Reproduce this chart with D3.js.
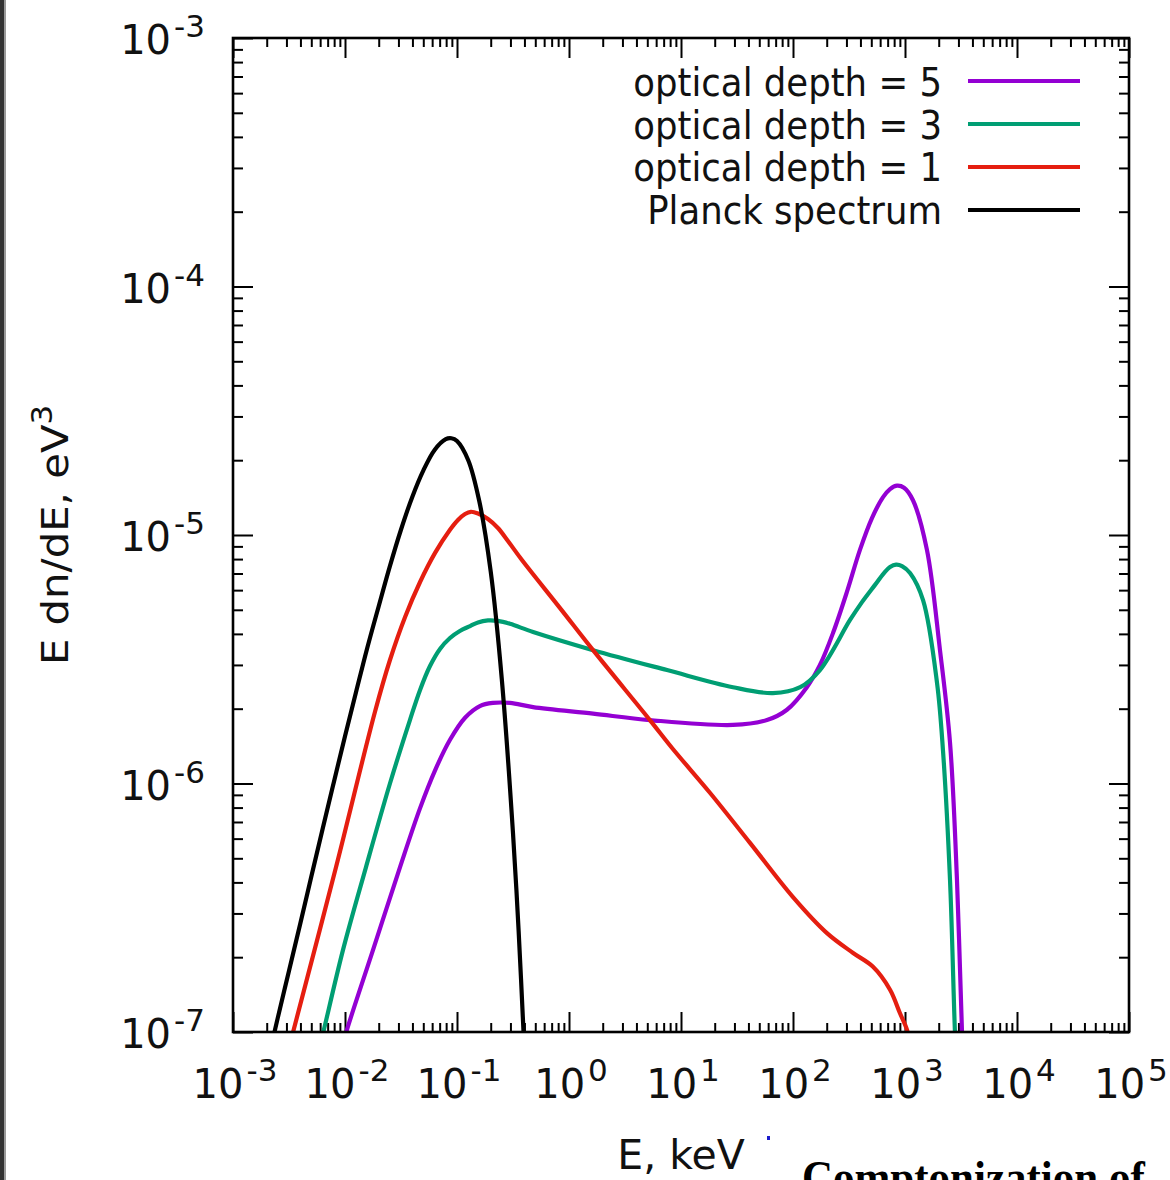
<!DOCTYPE html>
<html><head><meta charset="utf-8">
<script src="https://cdn.jsdelivr.net/npm/d3@7"></script>
<style>body{margin:0;background:#fff}svg{display:block}</style>
</head><body><svg id="c" width="1170" height="1180"></svg>
<script>
// ---- data ----
const xTickExps = [-3, -2, -1, 0, 1, 2, 3, 4, 5];
const yTickExps = [-7, -6, -5, -4, -3];
const seriesNames = ["optical depth = 5", "optical depth = 3", "optical depth = 1", "Planck spectrum"];
const seriesColors = ["#9400d3", "#009e73", "#e51e10", "#000000"];

const tau5E = [9.60e-3, 1.02e-2, 1.78e-2, 3.10e-2, 4.68e-2, 6.37e-2, 8.66e-2, 0.118, 0.160, 0.209, 0.297, 0.478, 1.64, 5.28, 29.1, 58.6, 88.3, 133, 174, 228, 303, 396, 507, 637, 735, 849, 980, 1178, 1570, 2053, 2523, 2911, 3228, 3296];
const tau5Y = [8.87e-8, 9.9e-8, 2.14e-7, 4.61e-7, 7.96e-7, 1.13e-6, 1.50e-6, 1.84e-6, 2.05e-6, 2.11e-6, 2.11e-6, 2.03e-6, 1.91e-6, 1.80e-6, 1.72e-6, 1.80e-6, 1.98e-6, 2.44e-6, 3.00e-6, 4.04e-6, 5.90e-6, 8.71e-6, 1.17e-5, 1.42e-5, 1.53e-5, 1.58e-5, 1.55e-5, 1.38e-5, 8.71e-6, 3.44e-6, 1.46e-6, 4.09e-7, 1.0e-7, 8.5e-8];

const tau3E = [5.98e-3, 6.37e-3, 9.60e-3, 1.54e-2, 2.52e-2, 3.80e-2, 4.68e-2, 5.74e-2, 7.05e-2, 8.66e-2, 0.106, 0.131, 0.154, 0.189, 0.232, 0.297, 0.478, 1.64, 7.50, 29.1, 66.2, 116, 174, 323, 413, 540, 649, 735, 832, 940, 1109, 1449, 1932, 2183, 2523, 2793, 2851];
const tau3Y = [8.87e-8, 9.9e-8, 2.14e-7, 4.61e-7, 1.00e-6, 1.80e-6, 2.38e-6, 2.97e-6, 3.48e-6, 3.85e-6, 4.11e-6, 4.30e-6, 4.45e-6, 4.53e-6, 4.51e-6, 4.39e-6, 4.07e-6, 3.44e-6, 2.86e-6, 2.44e-6, 2.31e-6, 2.44e-6, 2.86e-6, 4.55e-6, 5.37e-6, 6.30e-6, 7.03e-6, 7.43e-6, 7.60e-6, 7.50e-6, 7.03e-6, 5.47e-6, 2.54e-6, 1.36e-6, 4.09e-7, 1.0e-7, 8.5e-8];

const tau1E = [3.10e-3, 3.44e-3, 8.32e-3, 1.85e-2, 2.52e-2, 3.44e-2, 4.68e-2, 6.37e-2, 8.66e-2, 0.102, 0.118, 0.133, 0.154, 0.189, 0.232, 0.285, 0.380, 0.832, 1.64, 5.28, 8.32, 18.2, 41.3, 100, 201, 344, 518, 735, 902, 1042, 1109];
const tau1Y = [8.32e-8, 1.0e-7, 4.61e-7, 1.94e-6, 3.14e-6, 4.68e-6, 6.47e-6, 8.47e-6, 1.05e-5, 1.15e-5, 1.215e-5, 1.24e-5, 1.22e-5, 1.16e-5, 1.067e-5, 9.46e-6, 7.93e-6, 5.08e-6, 3.44e-6, 1.80e-6, 1.39e-6, 9.16e-7, 5.77e-7, 3.49e-7, 2.50e-7, 2.08e-7, 1.83e-7, 1.48e-7, 1.19e-7, 1.02e-7, 8.87e-8];

const planckE = [2.0e-3, 2.51e-3, 3.16e-3, 3.98e-3, 5.01e-3, 6.31e-3, 7.94e-3, 1.0e-2, 1.26e-2, 1.58e-2, 2.0e-2, 2.51e-2, 3.16e-2, 3.98e-2, 5.01e-2, 6.31e-2, 7.94e-2, 8.91e-2, 0.100, 0.126, 0.158, 0.200, 0.251, 0.316, 0.355, 0.398];
const planckY = [7.3e-8, 1.14e-7, 1.76e-7, 2.72e-7, 4.23e-7, 6.56e-7, 1.01e-6, 1.55e-6, 2.35e-6, 3.51e-6, 5.17e-6, 7.46e-6, 1.05e-5, 1.42e-5, 1.82e-5, 2.20e-5, 2.43e-5, 2.45e-5, 2.39e-5, 2.00e-5, 1.37e-5, 7.13e-6, 2.64e-6, 6.34e-7, 2.55e-7, 8.8e-8];

const seriesE = [tau5E, tau3E, tau1E, planckE];
const seriesY = [tau5Y, tau3Y, tau1Y, planckY];

// ---- layout ----
const FONT = "DejaVu Sans";
const M = {l: 233, t: 38, r: 1129, b: 1032};
const svg = d3.select("#c");

svg.append("rect").attr("x", 0).attr("y", 0).attr("width", 1170).attr("height", 1180).attr("fill", "#fff");
// page edge on the left
svg.append("rect").attr("x", 0).attr("y", 0).attr("width", 4).attr("height", 1180).attr("fill", "#333");
svg.append("rect").attr("x", 4).attr("y", 0).attr("width", 2).attr("height", 1180).attr("fill", "#9a9a9a");

const x = d3.scaleLog().domain([1e-3, 1e5]).range([M.l, M.r]);
const y = d3.scaleLog().domain([1e-7, 1e-3]).range([M.b, M.t]);

const xMajor = xTickExps.map(e => Math.pow(10, e));
const yMajor = yTickExps.map(e => Math.pow(10, e));
const minorOf = exps => {
  const out = [];
  for (let i = 0; i < exps.length - 1; i++)
    for (let k = 2; k <= 9; k++) out.push(k * Math.pow(10, exps[i]));
  return out;
};
const xMinor = minorOf(xTickExps);
const yMinor = minorOf(yTickExps);

const MAJ = 20, MIN = 9;
function tickAxis(axisFn, scale, vals, len, tx, ty) {
  const g = svg.append("g").attr("transform", `translate(${tx},${ty})`)
    .call(axisFn(scale).tickValues(vals).tickSizeInner(-len).tickSizeOuter(0).tickFormat(""));
  g.select(".domain").remove();
  g.selectAll(".tick line").attr("stroke", "#000").attr("stroke-width", 2);
  return g;
}
tickAxis(d3.axisBottom, x, xMajor, MAJ, 0, M.b);
tickAxis(d3.axisBottom, x, xMinor, MIN, 0, M.b);
tickAxis(d3.axisTop, x, xMajor, MAJ, 0, M.t);
tickAxis(d3.axisTop, x, xMinor, MIN, 0, M.t);
tickAxis(d3.axisLeft, y, yMajor, MAJ, M.l, 0);
tickAxis(d3.axisLeft, y, yMinor, MIN + 1, M.l, 0);
tickAxis(d3.axisRight, y, yMajor, MAJ, M.r, 0);
tickAxis(d3.axisRight, y, yMinor, MIN + 1, M.r, 0);

// ---- curves ----
svg.append("clipPath").attr("id", "plotclip").append("rect")
  .attr("x", M.l).attr("y", M.t).attr("width", M.r - M.l).attr("height", M.b - M.t);
const line = d3.line().x(d => x(d[0])).y(d => y(d[1])).curve(d3.curveCatmullRom.alpha(0.5));
const curves = svg.append("g").attr("clip-path", "url(#plotclip)");
seriesE.forEach((E, i) => {
  const pts = E.map((e, j) => [e, seriesY[i][j]]);
  curves.append("path").datum(pts).attr("d", line)
    .attr("fill", "none").attr("stroke", seriesColors[i]).attr("stroke-width", 4.2)
    .attr("stroke-linejoin", "round").attr("stroke-linecap", "round");
});

// frame
svg.append("rect").attr("x", M.l).attr("y", M.t).attr("width", M.r - M.l).attr("height", M.b - M.t)
  .attr("fill", "none").attr("stroke", "#000").attr("stroke-width", 2.6);

// ---- text helpers ----
function powText(px, py, anchor, exp, size) {
  const t = svg.append("text")
    .attr("transform", `translate(${px},${py})`)
    .attr("text-anchor", anchor).attr("font-family", FONT).attr("font-size", size).attr("fill", "#111");
  t.append("tspan").text("10");
  t.append("tspan").attr("font-size", 31).attr("dy", -17).attr("dx", 3).text(String(exp));
  return t;
}
xTickExps.forEach(e => powText(x(Math.pow(10, e)) + 2, 1098, "middle", e, 40));
yTickExps.forEach(e => powText(205, y(Math.pow(10, e)) + 16, "end", e, 40));

// axis titles
svg.append("text").attr("transform", `translate(${(M.l + M.r) / 2},1169)`)
  .attr("text-anchor", "middle").attr("font-family", FONT).attr("font-size", 41).attr("fill", "#111")
  .text("E, keV");
const yl = svg.append("text").attr("transform", `translate(68,${(M.t + M.b) / 2}) rotate(-90) scale(1.1,1)`)
  .attr("text-anchor", "middle").attr("font-family", FONT).attr("font-size", 38).attr("fill", "#111");
yl.append("tspan").text("E dn/dE, eV");
yl.append("tspan").attr("font-size", 28).attr("dy", -16).text("3");

// legend
seriesNames.forEach((n, i) => {
  svg.append("text").attr("transform", `translate(942,${96 + i * 42.7}) scale(1,1.12)`)
    .attr("text-anchor", "end").attr("font-family", FONT).attr("font-size", 35.5).attr("fill", "#111").text(n);
  svg.append("line").attr("x1", 968).attr("x2", 1080).attr("y1", 81 + i * 43).attr("y2", 81 + i * 43)
    .attr("stroke", seriesColors[i]).attr("stroke-width", 4.2);
});

// surrounding page fragments
svg.append("rect").attr("x", 767).attr("y", 1136).attr("width", 3).attr("height", 4).attr("fill", "#1a1acc");
svg.append("text").attr("transform", "translate(802,1193) scale(1,1.1)")
  .attr("font-family", "Liberation Serif").attr("font-weight", "bold").attr("font-size", 43).attr("fill", "#000")
  .text("Comptonization of");
</script></body></html>
